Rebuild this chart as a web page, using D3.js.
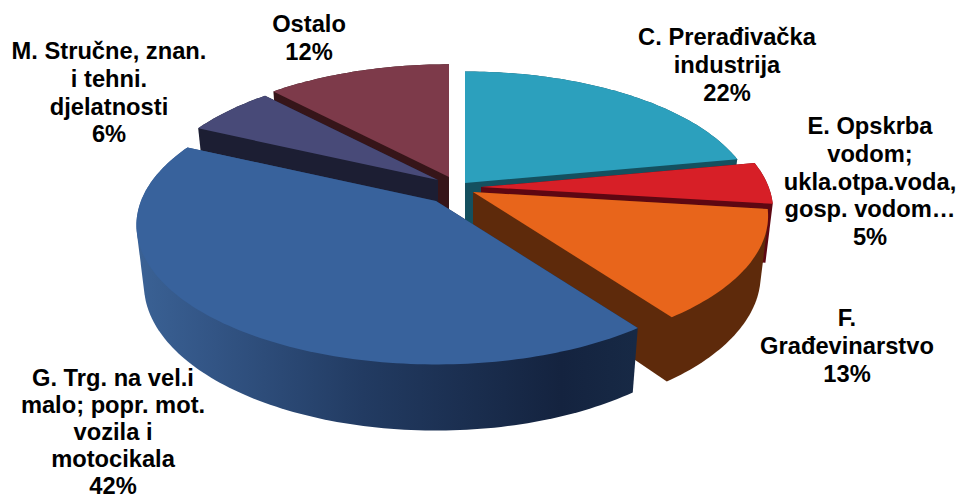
<!DOCTYPE html>
<html>
<head>
<meta charset="utf-8">
<script src="https://cdn.jsdelivr.net/npm/d3@7"></script>
<style>
  html, body { margin: 0; padding: 0; background: #fff; }
  text { font-family: "Liberation Sans", Arial, sans-serif; font-weight: bold; font-size: 23.7px; fill: #000; }
</style>
</head>
<body>
<div id="chart"></div>
<script>
// chart values, clockwise from 12 o'clock
var categories = ["C. Prerađivačka industrija", "E. Opskrba vodom; ukla.otpa.voda, gosp. vodom…", "F. Građevinarstvo",
    "G. Trg. na vel.i malo; popr. mot. vozila i motocikala", "M. Stručne, znan. i tehni. djelatnosti", "Ostalo"];
var values = [22, 5, 13, 42, 6, 12];
var labelLines = [
    ["C. Prerađivačka", "industrija", "22%"],
    ["E. Opskrba", "vodom;", "ukla.otpa.voda,", "gosp. vodom…", "5%"],
    ["F.", "Građevinarstvo", "13%"],
    ["G. Trg. na vel.i", "malo; popr. mot.", "vozila i", "motocikala", "42%"],
    ["M. Stručne, znan.", "i tehni.", "djelatnosti", "6%"],
    ["Ostalo", "12%"]
];

// slice styling and placement
var topColors = ["#2ca0bd", "#d71f27", "#e8651b", "#38629c", "#484a78", "#7d3a4a"];
var wallColors = ["#14505f", "#5e0712", "#5e2a0b", "url(#blueWall)", "#1c1e33", "#361519"];
var apexes = [[465, 183], [481, 187], [473, 192], [436, 201], [438, 180], [449, 177]];
var radiusScale = [0.97, 0.975, 0.985, 1, 0.965, 0.98];
var labelAnchors = [[727, 45], [870, 134], [847, 326], [113, 386], [109, 59], [309, 32]];
var labelSteps = [27.8, 27.8, 27.8, 27, 27.8, 27.8];
var drawOrder = [5, 4, 0, 1, 2, 3];

var w = 958, h = 499;
var rx = 295, ry = 135, persp = 0.174, depth = 58, lowerScale = 0.975;

var svg = d3.select("#chart").append("svg").attr("width", w).attr("height", h).style("display", "block");

var grad = svg.append("defs").append("linearGradient").attr("id", "blueWall")
    .attr("gradientUnits", "userSpaceOnUse").attr("x1", 140).attr("x2", 635).attr("y1", 0).attr("y2", 0);
[[0, "#3a6194"], [0.12, "#345788"], [0.45, "#223b62"], [0.85, "#14233f"], [1, "#172945"]].forEach(function (s) {
    grad.append("stop").attr("offset", s[0]).attr("stop-color", s[1]);
});

var arcs = d3.pie().sort(null)(values);

// point on the rim of the tilted disc, relative to the slice apex
function rim(angle, k) {
    var X = Math.sin(angle), Y = Math.cos(angle), s = 1 / (1 + persp * Y);
    return { x: X * s * rx * k, y: -Y * s * ry * k, s: s };
}

function sliceOutline(d) {
    var n = Math.ceil((d.endAngle - d.startAngle) / 0.02);
    return d3.range(n + 1).map(function (i) {
        return rim(d.startAngle + (d.endAngle - d.startAngle) * i / n, radiusScale[d.index]);
    });
}

var line = d3.line().curve(d3.curveLinearClosed);

drawOrder.forEach(function (idx) {
    var d = arcs[idx], a = apexes[idx], rimPts = sliceOutline(d);
    var top = [[a[0], a[1]]].concat(rimPts.map(function (p) { return [a[0] + p.x, a[1] + p.y]; }));
    var lower = [[a[0], a[1] + depth]].concat(rimPts.map(function (p) {
        return [a[0] + p.x * lowerScale, a[1] + p.y * lowerScale + depth * p.s];
    }));
    svg.append("path").attr("d", line(d3.polygonHull(top.concat(lower)))).attr("fill", wallColors[idx]);
    svg.append("path").attr("d", line(top)).attr("fill", topColors[idx]);
});

svg.selectAll("g.label").data(labelLines).enter().append("g").attr("class", "label")
    .each(function (lines, i) {
        d3.select(this).selectAll("text").data(lines).enter().append("text")
            .attr("text-anchor", "middle")
            .attr("x", labelAnchors[i][0])
            .attr("y", function (t, j) { return labelAnchors[i][1] + j * labelSteps[i]; })
            .text(function (t) { return t; });
    });
</script>
</body>
</html>
